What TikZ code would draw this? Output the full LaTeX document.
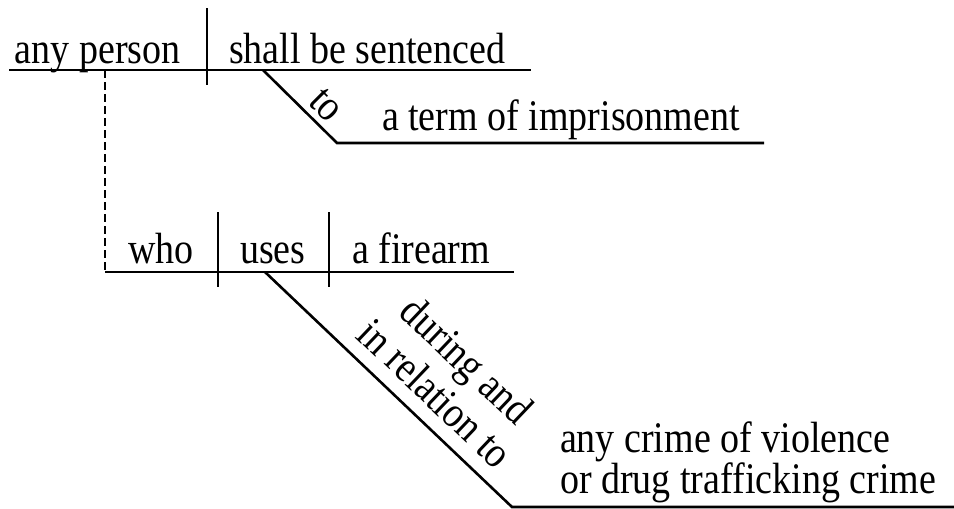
\documentclass[tikz,border=0pt]{standalone}
\usepackage{fontspec}
\setmainfont{Liberation Serif}
\newcommand\lbfont{\fontsize{38}{38}\selectfont}
\newcommand\tallt[1]{\scalebox{1}[1.15]{#1}}
\begin{document}
\begin{tikzpicture}[x=1pt,y=-1pt,
  rule/.style={line width=2.6pt},
  dashrule/.style={line width=2.2pt, dash pattern=on 8pt off 4pt},
  lbl/.style={font=\lbfont, inner sep=0pt, outer sep=0pt}]
\useasboundingbox (0,0) rectangle (954,509);
% top clause
\coordinate (t1) at (9,70);
\coordinate (t2) at (531,70);
\coordinate (d1a) at (207,8);
\coordinate (d1b) at (207,85);
\coordinate (p1) at (263,70);
\coordinate (p2) at (337,143);
\coordinate (p3) at (764,143);
\draw[rule] (t1) -- (t2);
\draw[rule] (d1a) -- (d1b);
\draw[rule] (p1) -- (p2) -- (p3);
\node[lbl, anchor=base west] (subj) at (15,63) {\tallt{any person}};
\node[lbl, anchor=base west] (verb) at (229,63) {\tallt{shall be sentenced}};
\node[lbl, anchor=base west] (obj) at (382,130) {\tallt{a term of imprisonment}};
\node[lbl, rotate=-45] (to) at (326,105) {\tallt{to}};
% dashed link
\coordinate (k1) at (105,70);
\coordinate (k2) at (105,272);
\draw[dashrule] (k1) -- (k2);
% relative clause
\coordinate (r2) at (514,272);
\coordinate (d2a) at (218,212);
\coordinate (d2b) at (218,287);
\coordinate (d3a) at (329,212);
\coordinate (d3b) at (329,287);
\coordinate (q1) at (265,272);
\coordinate (q2) at (512,507);
\coordinate (q3) at (954,507);
\draw[rule] (k2) -- (r2);
\draw[rule] (d2a) -- (d2b);
\draw[rule] (d3a) -- (d3b);
\draw[rule] (q1) -- (q2) -- (q3);
\node[lbl, anchor=base west] (who) at (128,263) {\tallt{who}};
\node[lbl, anchor=base west] (uses) at (240,263) {\tallt{uses}};
\node[lbl, anchor=base west] (fire) at (352,263) {\tallt{a firearm}};
\node[lbl, rotate=-43.6] (prep) at (447,381)
  {\tallt{\begin{tabular}{@{}c@{}}during and\\[2pt]in relation to\end{tabular}}};
\node[lbl, anchor=base west] (crime1) at (560,452) {\tallt{any crime of violence}};
\node[lbl, anchor=base west] (crime2) at (560,493) {\tallt{or drug trafficking crime}};
\end{tikzpicture}
\end{document}
